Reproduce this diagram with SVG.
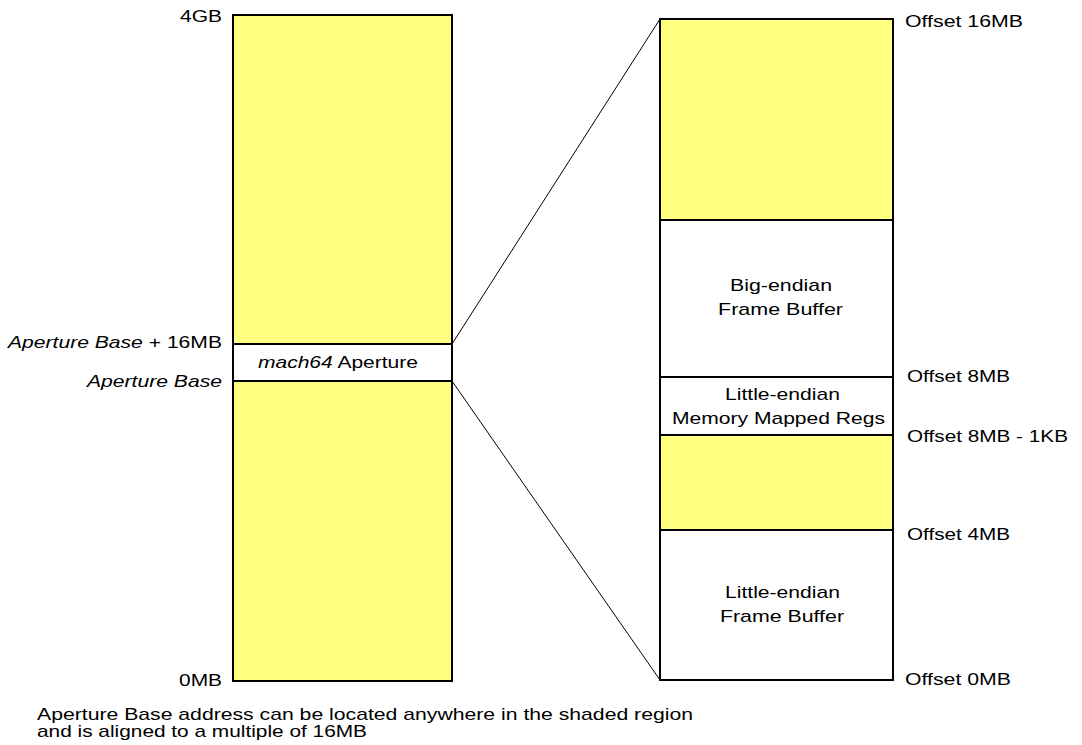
<svg xmlns="http://www.w3.org/2000/svg" width="1082" height="745" viewBox="0 0 1082 745">
<style>
.y{fill:#ffff80;stroke:#000;stroke-width:2}
.w{fill:#fff;stroke:#000;stroke-width:2}
text{font-family:"Liberation Sans",Arial,sans-serif;font-size:17px;fill:#000}
.i{font-style:italic}
.c{stroke:#000;stroke-width:1;fill:none}
</style>
<rect width="1082" height="745" fill="#fff"/>
<g id="left-column">
<rect class="y" x="233" y="15" width="219" height="666"/>
<rect class="w" x="233" y="344" width="219" height="37"/>
<text x="258" y="368" textLength="160" lengthAdjust="spacingAndGlyphs"><tspan class="i">mach64</tspan> Aperture</text>
</g>
<g id="left-labels">
<text x="180" y="22" textLength="42" lengthAdjust="spacingAndGlyphs">4GB</text>
<text x="8" y="348" textLength="214" lengthAdjust="spacingAndGlyphs"><tspan class="i">Aperture Base</tspan> + 16MB</text>
<text class="i" x="87" y="387" textLength="135" lengthAdjust="spacingAndGlyphs">Aperture Base</text>
<text x="179" y="686" textLength="43" lengthAdjust="spacingAndGlyphs">0MB</text>
</g>
<g id="connectors">
<line class="c" x1="452" y1="344" x2="660" y2="19"/>
<line class="c" x1="452" y1="381" x2="660" y2="680"/>
</g>
<g id="right-column">
<rect class="y" x="660" y="19" width="233" height="201"/>
<rect class="w" x="660" y="220" width="233" height="157"/>
<rect class="w" x="660" y="377" width="233" height="58"/>
<rect class="y" x="660" y="435" width="233" height="95"/>
<rect class="w" x="660" y="530" width="233" height="150"/>
<text x="730" y="291" textLength="102" lengthAdjust="spacingAndGlyphs">Big-endian</text>
<text x="718" y="315" textLength="125" lengthAdjust="spacingAndGlyphs">Frame Buffer</text>
<text x="725" y="400" textLength="115" lengthAdjust="spacingAndGlyphs">Little-endian</text>
<text x="672" y="424" textLength="213" lengthAdjust="spacingAndGlyphs">Memory Mapped Regs</text>
<text x="725" y="598" textLength="115" lengthAdjust="spacingAndGlyphs">Little-endian</text>
<text x="720" y="622" textLength="124" lengthAdjust="spacingAndGlyphs">Frame Buffer</text>
</g>
<g id="right-labels">
<text x="905" y="27" textLength="118" lengthAdjust="spacingAndGlyphs">Offset 16MB</text>
<text x="907" y="382" textLength="103" lengthAdjust="spacingAndGlyphs">Offset 8MB</text>
<text x="907" y="442" textLength="161" lengthAdjust="spacingAndGlyphs">Offset 8MB - 1KB</text>
<text x="907" y="540" textLength="103" lengthAdjust="spacingAndGlyphs">Offset 4MB</text>
<text x="905" y="685" textLength="106" lengthAdjust="spacingAndGlyphs">Offset 0MB</text>
</g>
<g id="note">
<text x="37" y="720" textLength="656" lengthAdjust="spacingAndGlyphs">Aperture Base address can be located anywhere in the shaded region</text>
<text x="37" y="737" textLength="330" lengthAdjust="spacingAndGlyphs">and is aligned to a multiple of 16MB</text>
</g>
</svg>
